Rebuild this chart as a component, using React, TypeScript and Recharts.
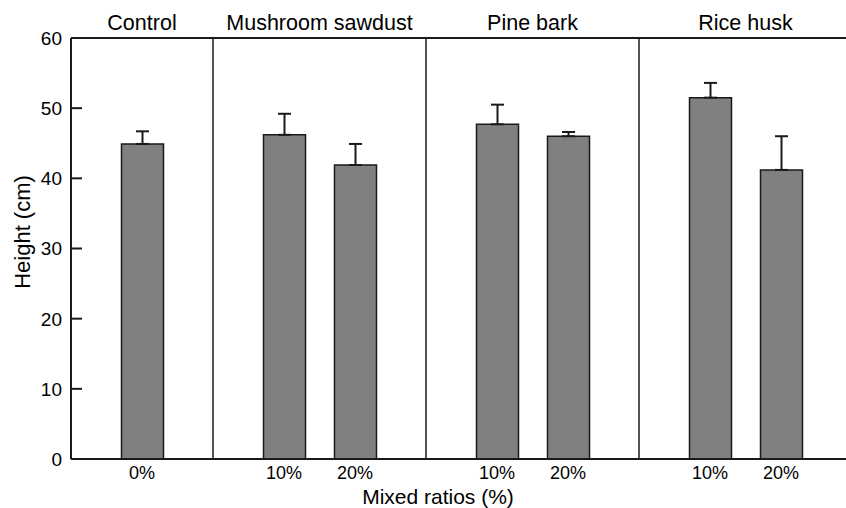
import React from 'react';
import { BarChart, Bar, XAxis, YAxis, ErrorBar, ReferenceLine, ReferenceArea, Label } from 'recharts';

// plant height by substrate and mixing ratio, error bars = SD (upper only)
const groups = ['Control', 'Mushroom sawdust', 'Pine bark', 'Rice husk'];
const ratios = [['0%'], ['10%', '20%'], ['10%', '20%'], ['10%', '20%']];
const heights = [[44.9], [46.2, 41.9], [47.7, 46.0], [51.5, 41.2]];
const errors = [[1.8], [3.0, 3.0], [2.8, 0.6], [2.1, 4.8]];
const yTicks = [0, 10, 20, 30, 40, 50, 60];

const FONT = '"Liberation Sans", Arial, sans-serif';
const INK = '#1a1a1a';

// one blank slot between groups holds the divider line
const rows: any[] = [];
groups.forEach((g, gi) => {
  if (gi > 0) rows.push({ key: `sep-${gi}`, label: '', height: null });
  ratios[gi].forEach((r, ri) => {
    rows.push({ key: `${g} ${r}`, label: r, height: heights[gi][ri], err: [0, errors[gi][ri]] });
  });
});
const labelOf: Record<string, string> = {};
rows.forEach((r) => (labelOf[r.key] = r.label));

function LeftTick({ x, y, payload }: any) {
  return (
    <g>
      <line x1={x} y1={y} x2={x + 11} y2={y} stroke={INK} strokeWidth={2} />
      <text x={x - 9} y={y} dy="0.36em" textAnchor="end" fontSize={19} fill="#000" fontFamily={FONT}>
        {payload.value}
      </text>
    </g>
  );
}

function RightTick({ x, y }: any) {
  return <line x1={x - 11} y1={y} x2={x} y2={y} stroke={INK} strokeWidth={2} />;
}

export default function App() {
  return (
    <div style={{ position: 'absolute', left: 0, top: 0, width: 846, height: 508, overflow: 'hidden', background: '#fff', fontFamily: FONT }}>
      <BarChart width={870} height={508} data={rows} margin={{ top: 38, right: 0, bottom: 0, left: 0 }}>
        <XAxis
          dataKey="key"
          height={49}
          padding={{ left: 35.5, right: 35.5 }}
          tickLine={false}
          tickMargin={1}
          axisLine={{ stroke: INK, strokeWidth: 2 }}
          tick={{ fontSize: 18, fill: '#000', fontFamily: FONT }}
          tickFormatter={(k: string) => labelOf[k]}
          interval={0}
        >
          <Label
            content={() => (
              <text x={438} y={504} textAnchor="middle" fontSize={21} fill="#000" fontFamily={FONT}>
                Mixed ratios (%)
              </text>
            )}
          />
        </XAxis>
        <YAxis
          width={71}
          domain={[0, 60]}
          ticks={yTicks}
          tickSize={0}
          tickMargin={0}
          tickLine={false}
          axisLine={{ stroke: INK, strokeWidth: 2 }}
          tick={<LeftTick />}
        >
          <Label
            content={() => (
              <text x={22} y={232} transform="rotate(-90 22 232)" textAnchor="middle" dominantBaseline="central" fontSize={22} fill="#000" fontFamily={FONT}>
                Height (cm)
              </text>
            )}
          />
        </YAxis>
        <YAxis
          yAxisId="right"
          orientation="right"
          width={18}
          domain={[0, 60]}
          ticks={yTicks}
          tickSize={0}
          tickMargin={0}
          tickLine={false}
          axisLine={{ stroke: INK, strokeWidth: 2 }}
          tick={<RightTick />}
        />
        <ReferenceLine y={60} stroke={INK} strokeWidth={2} />
        {rows.filter((r) => r.key.startsWith('sep-')).map((r) => (
          <ReferenceLine key={r.key} x={r.key} stroke={INK} strokeWidth={1.5} />
        ))}
        {groups.map((g, gi) => (
          <ReferenceArea
            key={g}
            x1={`${g} ${ratios[gi][0]}`}
            x2={`${g} ${ratios[gi][ratios[gi].length - 1]}`}
            fill="none"
            fillOpacity={0}
            stroke="none"
            label={{ value: g, position: 'top', offset: 8, fontSize: 21.5, fill: '#000', fontFamily: FONT }}
          />
        ))}
        <Bar dataKey="height" barSize={42} fill="#808080" stroke={INK} strokeWidth={1.5} isAnimationActive={false}>
          <ErrorBar dataKey="err" width={6.5} stroke={INK} strokeWidth={2} direction="y" />
        </Bar>
      </BarChart>
    </div>
  );
}
